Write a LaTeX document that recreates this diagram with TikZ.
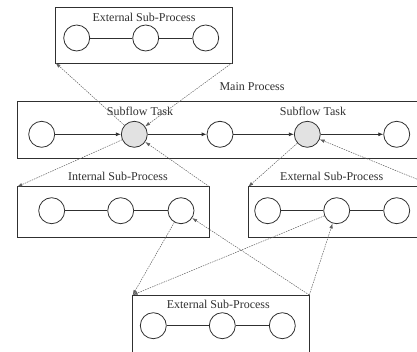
\documentclass[tikz,border=0pt]{standalone}
\usepackage{fontspec}
\setmainfont{Liberation Serif}
\usetikzlibrary{arrows.meta}
\definecolor{ink}{HTML}{303030}
\definecolor{edge}{HTML}{303030}
\definecolor{taskgray}{HTML}{E2E2E2}
\definecolor{callgray}{HTML}{606060}
\begin{document}
\begin{tikzpicture}[x=1pt,y=-1pt,
  lbl/.style={font=\fontsize{12}{14}\selectfont, text=ink, inner sep=0pt},
  state/.style={circle, draw=edge, line width=0.8pt, minimum size=26pt, inner sep=0pt, fill=white},
  task/.style={state, fill=taskgray},
  frame/.style={draw=edge, line width=0.8pt, anchor=north west, outer sep=0pt, inner sep=0pt},
  flow/.style={draw=edge, line width=0.8pt, -{Latex[length=5pt,width=4pt]}},
  link/.style={draw=edge, line width=0.8pt},
  call/.style={draw=callgray, line width=0.5pt, dash pattern=on 1.5pt off 1pt,
    -{Latex[length=5pt,width=3.5pt]}}]
\path[use as bounding box] (0,0) rectangle (417,352);
\clip (0,0) rectangle (417,352);

% frames
\node[frame, minimum width=176.3pt, minimum height=56pt]  (topbox)  at (55.7,7)    {};
\node[frame, minimum width=420pt,   minimum height=56.3pt] (mainbox) at (17.3,101.7) {};
\node[frame, minimum width=192pt,   minimum height=50.6pt] (intbox)  at (17.3,186.7) {};
\node[frame, minimum width=187pt,   minimum height=50.6pt] (extbox)  at (248.3,186.7) {};
\node[frame, minimum width=176.6pt, minimum height=80pt]  (botbox)  at (132.7,295)  {};

% labels
\node[lbl] (toptitle)  at (144,17)      {External Sub-Process};
\node[lbl] (mainlabel) at (252,87)      {Main Process};
\node[lbl] (subA)      at (140,111.7)   {Subflow Task};
\node[lbl] (subB)      at (313,111.7)   {Subflow Task};
\node[lbl] (inttitle)  at (118,176)     {Internal Sub-Process};
\node[lbl] (exttitle)  at (331.7,176)   {External Sub-Process};
\node[lbl] (bottitle)  at (218.3,304.3) {External Sub-Process};

% top external sub-process
\node[state] (t1) at (76.7,38)  {};
\node[state] (t2) at (145.7,38) {};
\node[state] (t3) at (205.7,38) {};
\draw[link] (t1) -- (t2);
\draw[link] (t2) -- (t3);

% main process
\node[state] (m1) at (41.7,134.3)  {};
\node[task]  (g1) at (134.3,134.3) {};
\node[state] (m3) at (220,134.3)   {};
\node[task]  (g2) at (307.3,134.3) {};
\node[state] (m5) at (396.7,134.3) {};
\draw[flow] (m1) -- (g1);
\draw[flow] (g1) -- (m3);
\draw[flow] (m3) -- (g2);
\draw[flow] (g2) -- (m5);

% internal sub-process
\node[state] (i1) at (51.7,210.7)  {};
\node[state] (i2) at (120.7,210.7) {};
\node[state] (i3) at (181,210.7)   {};
\draw[link] (i1) -- (i2);
\draw[link] (i2) -- (i3);

% right external sub-process
\node[state] (e1) at (267.7,210.7) {};
\node[state] (e2) at (336.7,210.7) {};
\node[state] (e3) at (396.7,210.7) {};
\draw[link] (e1) -- (e2);
\draw[link] (e2) -- (e3);

% bottom external sub-process
\node[state] (b1) at (153.3,325.7) {};
\node[state] (b2) at (222.3,325.7) {};
\node[state] (b3) at (282.3,325.7) {};
\draw[link] (b1) -- (b2);
\draw[link] (b2) -- (b3);

% subflow invocations
\draw[call] (g1) -- (topbox.south west);
\draw[call] (topbox.south east) -- (g1);
\draw[call] (g1) -- (intbox.north west);
\draw[call] (intbox.north east) -- (g1);
\draw[call] (g2) -- (extbox.north west);
\draw[call] (extbox.north east) -- (g2);
\draw[call] (i3) -- (botbox.north west);
\draw[call] (botbox.north east) -- (i3);
\draw[call] (e2) -- (botbox.north west);
\draw[call] (botbox.north east) -- (e2);
\end{tikzpicture}
\end{document}
